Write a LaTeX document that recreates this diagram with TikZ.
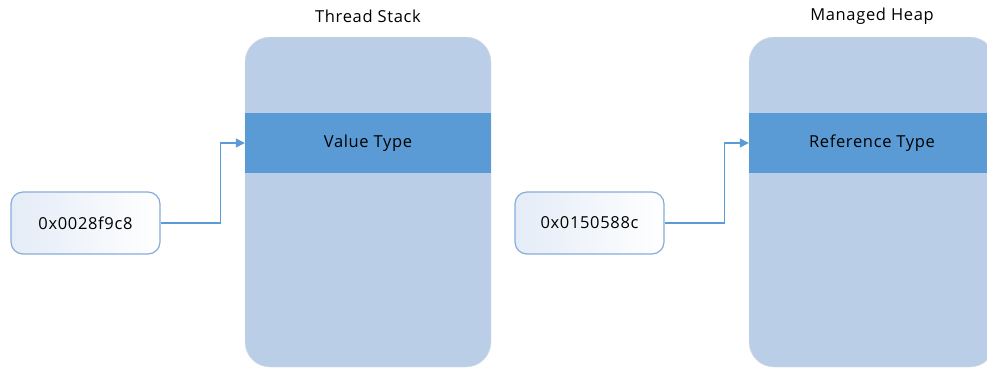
\documentclass[tikz,border=0pt]{standalone}
\usepackage{fontspec}
\setmainfont[LetterSpace=4]{Open Sans}
\usetikzlibrary{arrows.meta,positioning}
\definecolor{boxfill}{HTML}{BACEE7}
\definecolor{bandfill}{HTML}{5B9BD5}
\definecolor{linecol}{HTML}{5B9BD5}
\definecolor{addrline}{HTML}{86ACDA}
\definecolor{addrtint}{HTML}{E4ECF7}
\begin{document}
\begin{tikzpicture}[x=1pt,y=-1pt,
    font=\fontsize{16.5}{19}\selectfont,
    memstyle/.style={rectangle,rounded corners=25pt,fill=boxfill,draw=gray!25,
        minimum width=246pt,minimum height=330pt,inner sep=0pt},
    bandstyle/.style={rectangle,fill=bandfill,minimum width=246pt,minimum height=60pt,inner sep=0pt},
    addrstyle/.style={rectangle,rounded corners=12pt,draw=addrline,line width=1.2pt,
        left color=addrtint,right color=white,minimum width=149pt,minimum height=62pt,inner sep=0pt},
    titlestyle/.style={inner sep=0pt},
    conn/.style={draw=linecol,line width=1.3pt,-{Triangle[length=9pt,width=9pt]}}]
    \useasboundingbox (0,0) rectangle (987,370);
    \clip (0,0) rectangle (987,370);

    % thread stack side
    \node [memstyle] (stack) at (368,202) {};
    \node [bandstyle] (value) at (368,143) {Value Type};
    \node [titlestyle] (stacktitle) at (368,16) {Thread Stack};
    \node [addrstyle] (addra) at (85.5,223) {0x0028f9c8};

    % managed heap side
    \node [memstyle] (heap) at (872,202) {};
    \node [bandstyle] (ref) at (872,143) {Reference Type};
    \node [titlestyle] (heaptitle) at (872,16) {Managed Heap};
    \node [addrstyle] (addrb) at (589.5,223) {0x0150588c};

    \draw [conn] (addra.east) -- ++(60,0) |- (value.west);
    \draw [conn] (addrb.east) -- ++(60,0) |- (ref.west);
\end{tikzpicture}
\end{document}
